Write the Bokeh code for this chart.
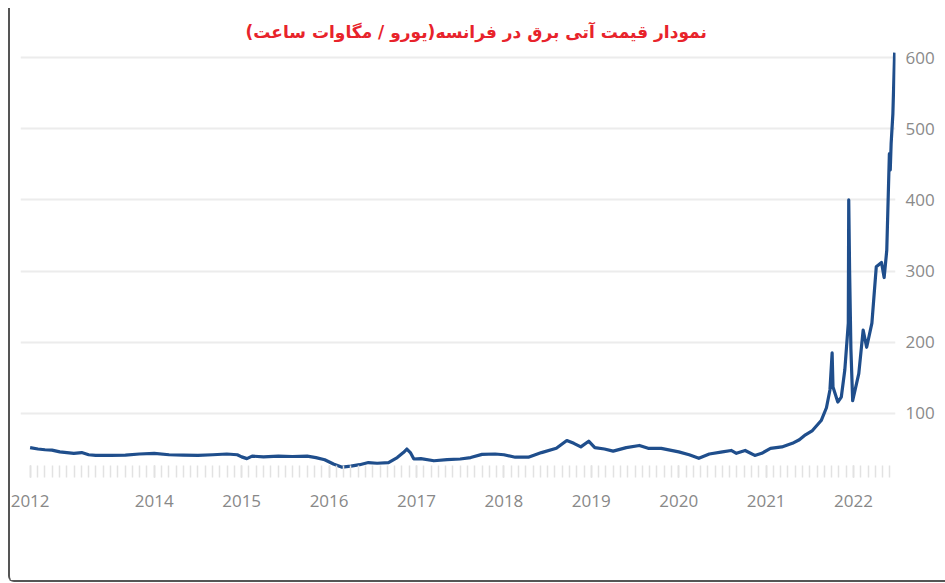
from bokeh.plotting import figure
from bokeh.models import Range1d, FixedTicker
from bokeh.embed import file_html
from bokeh.resources import INLINE

# ---- data (decimal year, EUR/MWh) ----
dates = [2012.58, 2012.67, 2012.75, 2012.83, 2012.92, 2013.00, 2013.08, 2013.17, 2013.25, 2013.33,
         2013.50, 2013.67, 2013.83, 2014.00, 2014.17, 2014.33, 2014.50, 2014.67, 2014.83, 2014.95,
         2015.00, 2015.06, 2015.12, 2015.25, 2015.42, 2015.58, 2015.75, 2015.85, 2015.95, 2016.05,
         2016.15, 2016.25, 2016.35, 2016.45, 2016.55, 2016.68, 2016.78, 2016.85, 2016.89, 2016.93,
         2016.97, 2017.05, 2017.20, 2017.35, 2017.50, 2017.62, 2017.75, 2017.90, 2018.00, 2018.13,
         2018.28, 2018.43, 2018.60, 2018.72, 2018.80, 2018.88, 2018.97, 2019.04, 2019.15, 2019.25,
         2019.40, 2019.55, 2019.65, 2019.80, 2020.00, 2020.12, 2020.23, 2020.35, 2020.50, 2020.60,
         2020.66, 2020.76, 2020.87, 2020.95, 2021.05, 2021.18, 2021.30, 2021.38, 2021.45, 2021.53,
         2021.63, 2021.69, 2021.73, 2021.755, 2021.765, 2021.82, 2021.86, 2021.90, 2021.94, 2021.945,
         2021.955, 2021.97, 2021.99, 2022.06, 2022.11, 2022.15, 2022.21, 2022.26, 2022.32, 2022.35,
         2022.38, 2022.41, 2022.42, 2022.43, 2022.45, 2022.47]
prices = [52, 50, 49, 48.5, 46, 45, 44, 45, 42, 41,
          41, 41.5, 43, 44, 42, 41.5, 41, 42, 43, 42,
          39, 36.5, 40, 39, 40, 39.5, 40, 38, 35, 29,
          24.5, 26, 28, 31, 30, 31, 38, 45, 50, 45,
          36, 36.5, 33.5, 35, 36, 38, 42.5, 43, 42, 38.5,
          38.5, 45, 51, 62, 58, 53, 61, 52, 50, 47,
          52, 55, 51, 51, 46, 42, 37, 43, 46, 48,
          44, 48, 41, 44, 51, 53, 58, 63, 70, 76,
          90, 108, 133, 185, 137, 116, 123, 161, 227, 400,
          300, 190, 118, 156, 217, 193, 227, 306, 312, 291,
          329, 465, 442, 479, 521, 607]

year_ticks = [2012.58, 2014, 2015, 2016, 2017, 2018, 2019, 2020, 2021, 2022]
year_labels = ["2012", "2014", "2015", "2016", "2017", "2018", "2019", "2020", "2021", "2022"]
y_ticks = [100, 200, 300, 400, 500, 600]

title_text = "نمودار قیمت آتی برق در فرانسه(یورو / مگاوات ساعت)"

p = figure(width=937, height=574, output_backend="svg", toolbar_location=None,
           x_range=Range1d(2012.47, 2022.48), y_range=Range1d(10, 617),
           y_axis_location="right",
           min_border_left=10, min_border_right=52, min_border_top=37, min_border_bottom=105)
p.styles = {"margin-left": "8px", "margin-top": "8px",
            "border-left": "2px solid #555555", "border-bottom": "2px solid #555555",
            "border-bottom-left-radius": "6px"}

p.title.text = title_text
p.title.text_font = "DejaVu Sans"
p.title.text_font_style = "bold"
p.title.text_font_size = "17px"
p.title.text_color = "#e8232b"
p.title.align = "left"
p.title.offset = 225
p.title.standoff = 8

p.outline_line_color = None
p.background_fill_color = "white"
p.border_fill_color = "white"

p.line(dates, prices, line_color="#1f4e8c", line_width=3.2, line_join="round")

# x axis
xa = p.xaxis[0]
minor = [2012 + 7 / 12 + i / 12 for i in range(0, 120)]
xa.ticker = FixedTicker(ticks=year_ticks, minor_ticks=minor)
xa.major_label_overrides = {t: l for t, l in zip(year_ticks, year_labels)}
xa.axis_line_color = None
xa.major_tick_in = 12
xa.major_tick_out = 0
xa.major_tick_line_color = "#d4d4d4"
xa.major_tick_line_width = 1.5
xa.minor_tick_in = 12
xa.minor_tick_out = 0
xa.minor_tick_line_color = "#e2e2e2"
xa.minor_tick_line_width = 1.5
xa.major_label_text_font = "Open Sans"
xa.major_label_text_font_size = "17px"
xa.major_label_text_color = "#888888"
xa.major_label_standoff = 17

# y axis
ya = p.yaxis[0]
ya.ticker = FixedTicker(ticks=y_ticks)
ya.axis_line_color = None
ya.major_tick_line_color = None
ya.minor_tick_line_color = None
ya.major_label_text_font = "Open Sans"
ya.major_label_text_font_size = "17px"
ya.major_label_text_color = "#8a8a8a"
ya.major_label_standoff = 4

p.xgrid.grid_line_color = None
p.ygrid.ticker = FixedTicker(ticks=y_ticks)
p.ygrid.grid_line_color = "#ececec"
p.ygrid.grid_line_width = 2

open("out.html", "w").write(file_html(p, INLINE))
